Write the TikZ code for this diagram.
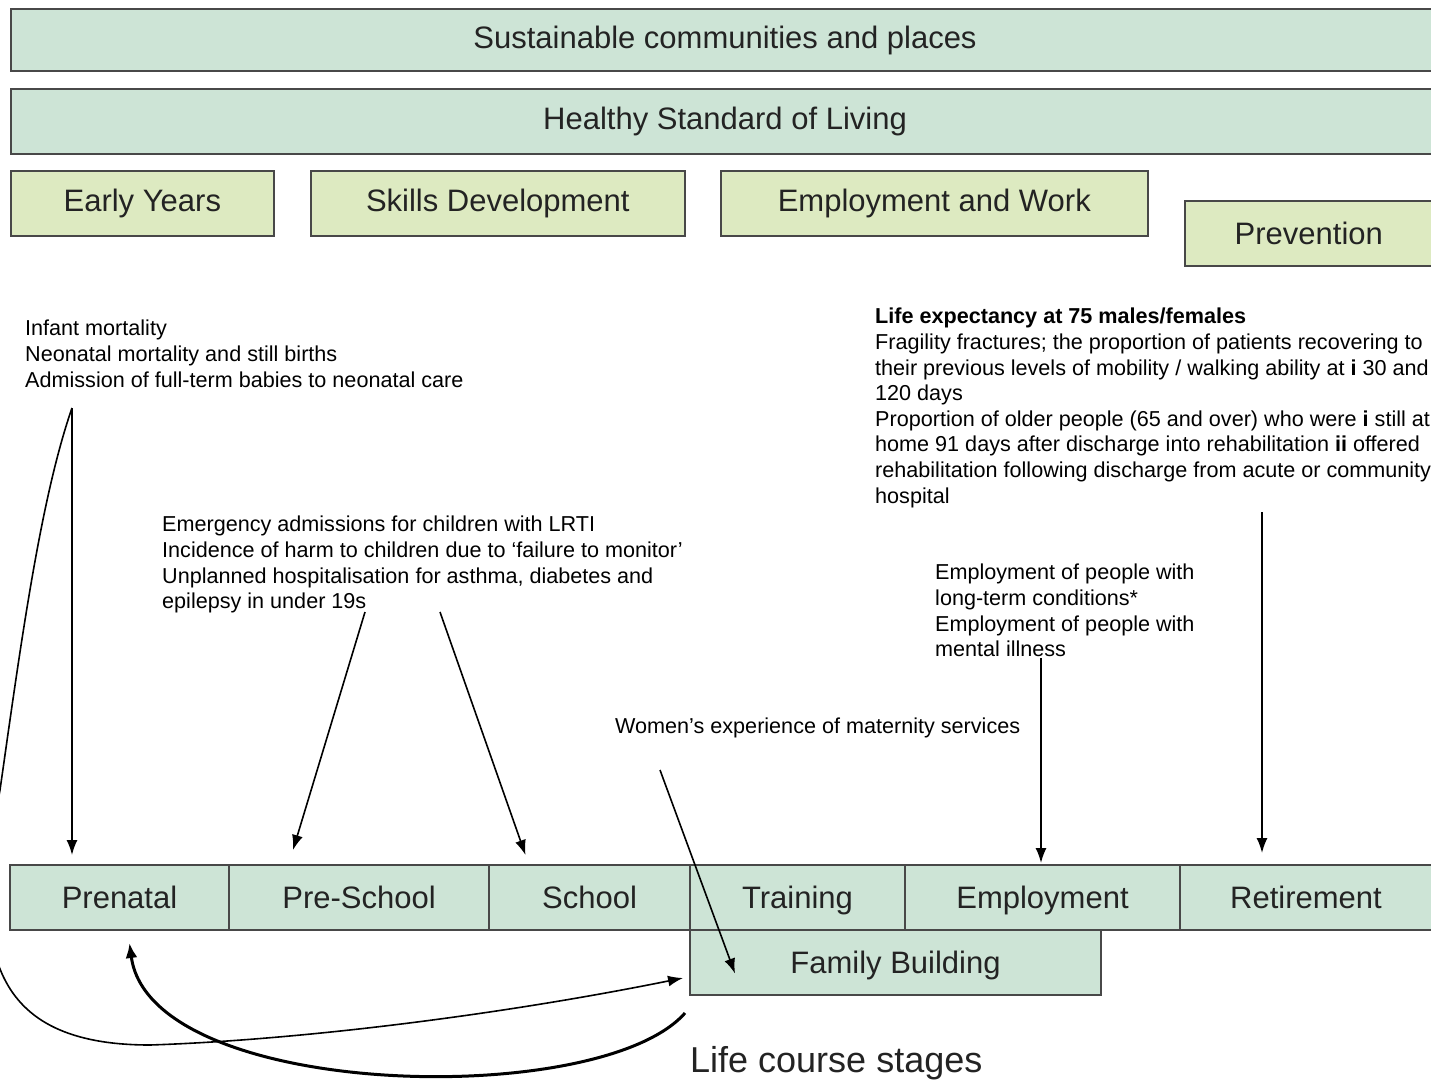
\documentclass[tikz,border=0pt]{standalone}
\usepackage{fontspec}
\setmainfont{Liberation Sans}
\usetikzlibrary{positioning,calc,arrows.meta}
\definecolor{bandgreen}{RGB}{205,228,214}
\definecolor{themegreen}{RGB}{221,234,193}
\definecolor{boxline}{RGB}{72,72,72}
\definecolor{boxtext}{RGB}{35,35,35}

\tikzset{
	band/.style={draw=boxline,fill=bandgreen,line width=2pt,anchor=north west,minimum width=1428pt,inner sep=0pt,text=boxtext,font=\fontsize{31}{36}\selectfont},
	theme/.style={draw=boxline,fill=themegreen,line width=1.6pt,anchor=north west,minimum height=65pt,inner sep=0pt,text=boxtext,font=\fontsize{31}{36}\selectfont},
	stage/.style={draw=boxline,fill=bandgreen,line width=1.4pt,outer sep=0pt,minimum height=65pt,inner sep=0pt,text height=25pt,text depth=3pt,text=boxtext,font=\fontsize{31}{36}\selectfont},
	note/.style={anchor=north west,align=left,inner sep=0pt,font=\fontsize{21.6}{25.6}\selectfont},
	arr/.style={-{Latex[length=15pt,width=11pt]},line width=1.6pt},
}

\begin{document}
\begin{tikzpicture}[x=1pt,y=-1pt]
		\path[use as bounding box] (0,0) rectangle (1431,1083);
		\clip (0,0) rectangle (1431,1083);

		\node[band,minimum height=62pt] (communities) at (10,8) {Sustainable communities and places};
		\node[band,minimum height=65pt] (living) at (10,88) {Healthy Standard of Living};

		\node[theme,minimum width=263pt] (early) at (10,170) {Early Years};
		\node[theme,minimum width=374pt] (skills) at (310,170) {Skills Development};
		\node[theme,minimum width=427pt] (work) at (720,170) {Employment and Work};
		\node[theme,minimum width=248pt] (prevention) at (1184,200) {Prevention};

		\node[stage,minimum width=219pt,anchor=north west] (prenatal) at (10,865) {Prenatal};
		\node[stage,minimum width=260pt,anchor=west] (preschool) at (prenatal.east) {Pre-School};
		\node[stage,minimum width=201pt,anchor=west] (school) at (preschool.east) {School};
		\node[stage,minimum width=215pt,anchor=west] (training) at (school.east) {Training};
		\node[stage,minimum width=275pt,anchor=west] (employment) at (training.east) {Employment};
		\node[stage,minimum width=252pt,anchor=west] (retirement) at (employment.east) {Retirement};
		\node[stage,minimum width=411pt,anchor=north west] (family) at (training.south west) {Family Building};
		\node[anchor=west,inner sep=0pt,text=boxtext,font=\fontsize{36}{40}\selectfont] (stages) at ([yshift=-68pt]family.south west) {Life course stages};

		\node[note] (infant) at (25,320) {Infant mortality\\Neonatal mortality and still births\\Admission of full-term babies to neonatal care};
		\node[note] (children) at (162,516) {Emergency admissions for children with LRTI\\Incidence of harm to children due to ‘failure to monitor’\\Unplanned hospitalisation for asthma, diabetes and\\epilepsy in under 19s};
		\node[note] (women) at (615,718) {Women’s experience of maternity services};
		\node[note] (jobs) at (935,564) {Employment of people with\\long-term conditions*\\Employment of people with\\mental illness};
		\node[note] (elderly) at (875,308) {\textbf{Life expectancy at 75 males/females}\\Fragility fractures; the proportion of patients recovering to\\their previous levels of mobility / walking ability at \textbf{i} 30 and\\120 days\\Proportion of older people (65 and over) who were \textbf{i} still at\\home 91 days after discharge into rehabilitation \textbf{ii} offered\\rehabilitation following discharge from acute or community\\hospital};

		\coordinate[shift={(47,88)}] (infs) at (infant.north west);
		\coordinate[shift={(203,96)}] (chs1) at (children.north west);
		\coordinate[shift={(278,96)}] (chs2) at (children.north west);
		\coordinate[shift={(45,52)}] (wos) at (women.north west);
		\coordinate[shift={(106,94)}] (jos) at (jobs.north west);
		\coordinate[shift={(387,204)}] (els) at (elderly.north west);

		\draw[arr] (infs)--([yshift=10pt]prenatal.north -| infs);
		\draw[arr] (infs) .. controls (40,500) and (20,650) .. (0,790) .. controls (-30,950) and (-10,1045) .. (150,1045) .. controls (300,1040) and (500,1015) .. ([xshift=-7pt,yshift=17pt]family.south west);
		\draw[arr] (chs1)--([xshift=-66pt,yshift=15pt]preschool.north);
		\draw[arr] (chs2)--([xshift=-64pt,yshift=10pt]school.north);
		\draw[arr] (wos)--([xshift=45pt,yshift=-11pt]family.west);
		\draw[arr] (jos)--([yshift=2pt]employment.north -| jos);
		\draw[arr] (els)--([yshift=12pt]retirement.north -| els);
		\draw[-{Latex[length=15pt,width=12pt]},line width=3pt] ([xshift=-5pt,yshift=-18pt]family.south west) .. controls (600,1110) and (150,1100) .. ([xshift=10pt,yshift=-13pt]prenatal.south);
	\end{tikzpicture}
\end{document}
